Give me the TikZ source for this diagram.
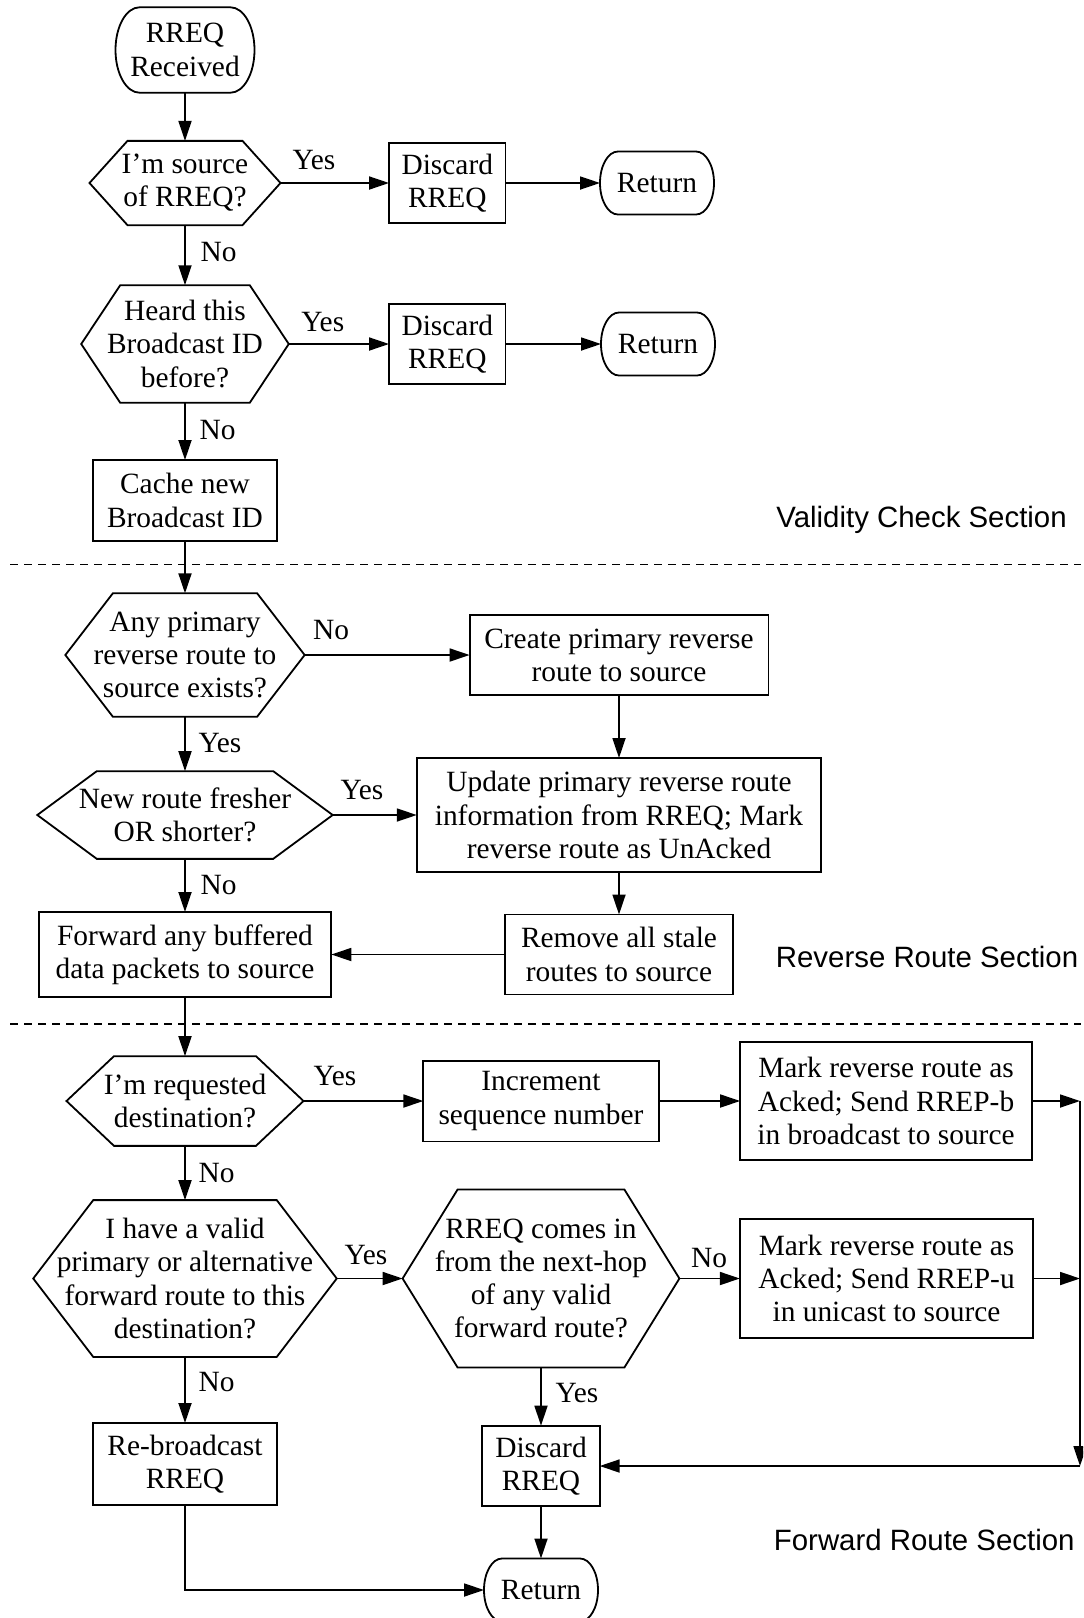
\documentclass[tikz,border=0pt]{standalone}
\usepackage{fontspec}
\setmainfont{Liberation Serif}
\newfontfamily\secfont{Liberation Sans}
\usetikzlibrary{arrows.meta}
\newcommand\flowsize{\fontsize{14.7pt}{16.6pt}\selectfont}

\tikzset{
  flowbase/.style={rectangle, inner sep=0pt, outer sep=0pt, align=center, font=\flowsize},
  procbox/.style={flowbase, draw, line width=0.9pt},
  decision/.style={flowbase},
  terminal/.style={flowbase},
  lbl/.style={inner sep=0pt, font=\flowsize},
  sectionlbl/.style={inner sep=0pt, font=\secfont\flowsize, anchor=base west},
  arr/.style={line width=0.9pt, -{Triangle[length=10pt,width=6.5pt]}},
  shapeline/.style={line width=0.9pt, line join=miter},
  divider/.style={line width=0.8pt, dash pattern=on 4.2pt off 2.8pt},
}

% flat hexagon drawn over a rectangular node: node name, horizontal slant
\newcommand\hexoutline[2]{%
  \draw[shapeline] ([xshift=#2]#1.north west) -- ([xshift=-#2]#1.north east) -- (#1.east)
    -- ([xshift=-#2]#1.south east) -- ([xshift=#2]#1.south west) -- (#1.west) -- cycle;}

% terminal with elliptic ends: node name, rx, ry, control offsets kx, ky
\newcommand\termoutline[5]{%
  \draw[shapeline] ([xshift=#2]#1.north west) -- ([xshift=-#2]#1.north east)
    .. controls +(#4,0pt) and +(0pt,#5) .. (#1.east)
    .. controls +(0pt,-#5) and +(#4,0pt) .. ([xshift=-#2]#1.south east)
    -- ([xshift=#2]#1.south west)
    .. controls +(-#4,0pt) and +(0pt,-#5) .. (#1.west)
    .. controls +(0pt,#5) and +(-#4,0pt) .. ([xshift=#2]#1.north west) -- cycle;}

\begin{document}
\begin{tikzpicture}[x=0.5pt,y=-0.5pt]
\fill[white] (0,0) rectangle (1083,1618);
\useasboundingbox (0,0) rectangle (1083,1618);
\clip (0,0) rectangle (1083,1618);

% ---------- validity check ----------
\node[terminal, minimum width=69.5pt, minimum height=42.7pt] (start) at (185,50) {RREQ\\Received};
\node[decision, minimum width=95.5pt, minimum height=42.15pt] (srcq) at (185,183) {I’m source\\of RREQ?};
\node[procbox, minimum width=58.25pt, minimum height=40.15pt] (drop1) at (447.3,183) {Discard\\RREQ};
\node[terminal, minimum width=57pt, minimum height=31.5pt] (ret1) at (657,183) {Return};
\node[decision, minimum width=103.8pt, minimum height=58.75pt] (seenq) at (185,344) {Heard this\\Broadcast ID\\before?};
\node[procbox, minimum width=58.25pt, minimum height=40.15pt] (drop2) at (447.3,344) {Discard\\RREQ};
\node[terminal, minimum width=57pt, minimum height=31.5pt] (ret2) at (658,344) {Return};
\node[procbox, minimum width=92.2pt, minimum height=40.5pt] (cache) at (185,500.5) {Cache new\\Broadcast ID};

% ---------- reverse route ----------
\node[decision, minimum width=119.65pt, minimum height=61.7pt] (revq) at (185,655) {Any primary\\reverse route to\\source exists?};
\node[procbox, minimum width=149.4pt, minimum height=40pt] (create) at (619,655) {Create primary reverse\\route to source};
\node[decision, minimum width=147.7pt, minimum height=43.85pt] (freshq) at (185,815) {New route fresher\\OR shorter?};
\node[procbox, minimum width=202.25pt, minimum height=57pt] (update) at (619,815) {Update primary reverse route\\information from RREQ; Mark\\reverse route as UnAcked};
\node[procbox, minimum width=146.35pt, minimum height=42.5pt] (fwd) at (185,954.5) {Forward any buffered\\data packets to source};
\node[procbox, minimum width=114.2pt, minimum height=40pt] (stale) at (619,954.5) {Remove all stale\\routes to source};

% ---------- forward route ----------
\node[decision, minimum width=118.5pt, minimum height=44.85pt] (destq) at (185,1101) {I’m requested\\destination?};
\node[procbox, minimum width=117.65pt, minimum height=40.4pt] (incr) at (541,1101) {Increment\\sequence number};
\node[procbox, minimum width=145.85pt, minimum height=59.15pt] (replyb) at (886,1101) {Mark reverse route as\\Acked; Send RREP-b\\in broadcast to source};
\node[decision, minimum width=151.75pt, minimum height=78.4pt] (routeq) at (185,1278.5) {I have a valid\\primary or alternative\\forward route to this\\destination?};
\node[decision, minimum width=138.4pt, minimum height=89pt] (hopq) at (541,1278.5) {RREQ comes in\\from the next-hop\\of any valid\\forward route?};
\node[procbox, minimum width=146.65pt, minimum height=59.3pt] (replyu) at (886.5,1278.5) {Mark reverse route as\\Acked; Send RREP-u\\in unicast to source};
\node[procbox, minimum width=92pt, minimum height=41pt] (rebro) at (185,1464) {Re-broadcast\\RREQ};
\node[procbox, minimum width=58.65pt, minimum height=40.35pt] (drop3) at (541,1466) {Discard\\RREQ};
\node[terminal, minimum width=57pt, minimum height=31.5pt] (ret3) at (541,1590) {Return};

% outlines of decisions and terminals
\termoutline{start}{12pt}{21.35pt}{6.63pt}{11.79pt}
\termoutline{ret1}{9pt}{15.75pt}{4.97pt}{8.7pt}
\termoutline{ret2}{9pt}{15.75pt}{4.97pt}{8.7pt}
\termoutline{ret3}{9pt}{15.75pt}{4.97pt}{8.7pt}
\hexoutline{srcq}{19pt}
\hexoutline{seenq}{19.5pt}
\hexoutline{revq}{23.75pt}
\hexoutline{freshq}{29.75pt}
\hexoutline{destq}{23.75pt}
\hexoutline{routeq}{30pt}
\hexoutline{hopq}{27.5pt}

% section dividers and titles
\coordinate (d1a) at (10,564.5);  \coordinate (d1b) at (1081,564.5);
\coordinate (d2a) at (10,1024);   \coordinate (d2b) at (1081,1024);
\draw[divider] (d1a) -- (d1b);
\draw[divider] (d2a) -- (d2b);
\node[sectionlbl] (secA) at (776,527) {Validity Check Section};
\node[sectionlbl] (secB) at (775.5,967) {Reverse Route Section};
\node[sectionlbl] (secC) at (773.5,1550) {Forward Route Section};

% connectors
\draw[arr] (start.south) -- (srcq.north);
\draw[arr] (srcq.east) -- (drop1.west);
\draw[arr] (drop1.east) -- (ret1.west);
\draw[arr] (srcq.south) -- (seenq.north);
\draw[arr] (seenq.east) -- (drop2.west);
\draw[arr] (drop2.east) -- (ret2.west);
\draw[arr] (seenq.south) -- (cache.north);
\draw[arr] (cache.south) -- (revq.north);
\draw[arr] (revq.east) -- (create.west);
\draw[arr] (create.south) -- (update.north);
\draw[arr] (revq.south) -- (freshq.north);
\draw[arr] (freshq.east) -- (update.west);
\draw[arr] (update.south) -- (stale.north);
\draw[arr] (freshq.south) -- (fwd.north);
\draw[arr] (stale.west) -- (fwd.east);
\draw[arr] (fwd.south) -- (destq.north);
\draw[arr] (destq.east) -- (incr.west);
\draw[arr] (incr.east) -- (replyb.west);
\draw[arr] (destq.south) -- (routeq.north);
\draw[arr] (routeq.east) -- (hopq.west);
\draw[arr] (hopq.east) -- (replyu.west);
\draw[arr] (hopq.south) -- (drop3.north);
\draw[arr] (routeq.south) -- (rebro.north);
\draw[arr] (drop3.south) -- (ret3.north);
\draw[arr] (rebro.south) |- (ret3.west);

\coordinate (jb) at (1080,1101);
\coordinate (ju) at (1080,1278.5);
\coordinate (jc) at (1080,1466);
\draw[arr] (replyb.east) -- (jb);
\draw[arr] (replyu.east) -- (ju);
\draw[arr] (jb) -- (jc);
\draw[arr] (jc) -- (drop3.east);

% branch labels
\node[lbl] (l1) at (314,160) {Yes};
\node[lbl] (l2) at (218.7,251.7) {No};
\node[lbl] (l3) at (322.8,321.7) {Yes};
\node[lbl] (l4) at (217.5,430) {No};
\node[lbl] (l5) at (331,630) {No};
\node[lbl] (l6) at (220,742.7) {Yes};
\node[lbl] (l7) at (362,790) {Yes};
\node[lbl] (l8) at (218.5,885) {No};
\node[lbl] (l9) at (335,1076.4) {Yes};
\node[lbl] (l10) at (216.5,1172.6) {No};
\node[lbl] (l11) at (366,1254.6) {Yes};
\node[lbl] (l12) at (709,1258.4) {No};
\node[lbl] (l13) at (577,1393) {Yes};
\node[lbl] (l14) at (216.5,1381.6) {No};
\end{tikzpicture}
\end{document}
